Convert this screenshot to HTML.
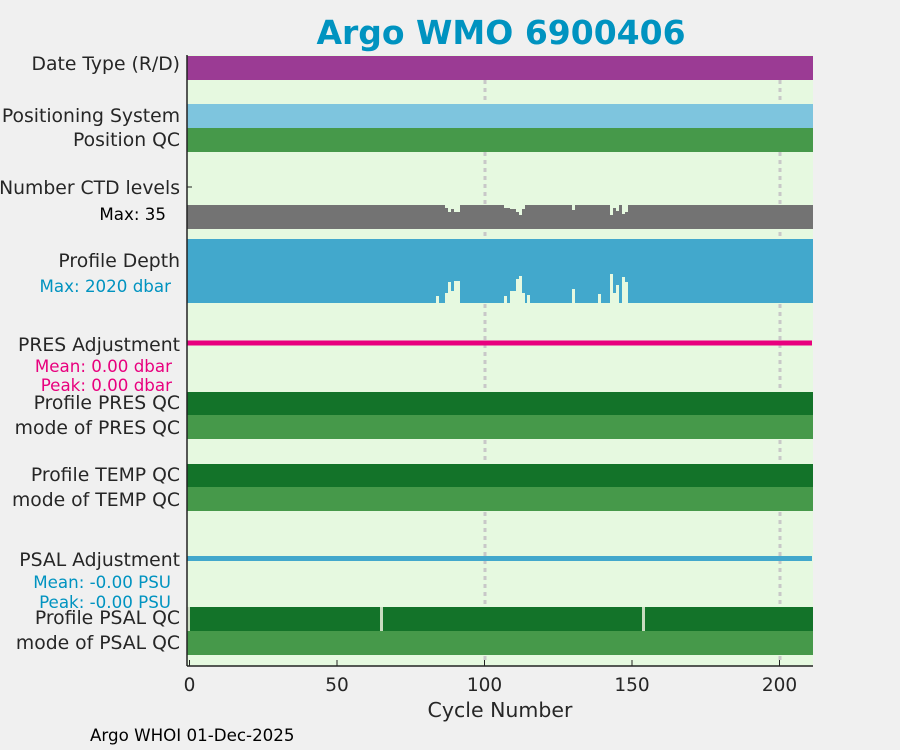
<!DOCTYPE html>
<html><head><meta charset="utf-8"><style>
body{margin:0;background:#f0f0f0;}
svg{display:block;font-family:"DejaVu Sans","Liberation Sans",sans-serif;}
</style></head><body>
<svg width="900" height="750" viewBox="0 0 900 750" xmlns="http://www.w3.org/2000/svg">
<rect width="900" height="750" fill="#f0f0f0"/>
<text x="501" y="44" text-anchor="middle" font-size="33" font-weight="bold" fill="#0093c0">Argo WMO 6900406</text>
<rect x="187" y="55" width="626" height="611" fill="#e6f9e0"/>
<g stroke="#c8c8c8" stroke-width="3" stroke-dasharray="4,4">
<line x1="485" y1="56" x2="485" y2="663"/><line x1="780" y1="56" x2="780" y2="663"/>
</g>
<rect x="187" y="56" width="626" height="24" fill="#9b3b94"/>
<rect x="187" y="104" width="626" height="24" fill="#7ec5de"/>
<rect x="187" y="128" width="626" height="24" fill="#46994a"/>
<rect x="187" y="205" width="626" height="24" fill="#737373"/>
<g fill="#e6f9e0">
<rect x="445" y="205" width="3" height="3"/><rect x="448" y="205" width="3" height="7"/><rect x="451" y="205" width="3" height="4"/><rect x="454" y="205" width="6" height="7"/>
<rect x="504" y="205" width="6" height="3"/><rect x="510" y="205" width="6" height="4"/><rect x="516" y="205" width="3" height="7"/><rect x="519" y="205" width="3" height="10"/><rect x="522" y="205" width="3" height="4"/>
<rect x="572" y="205" width="3" height="5"/><rect x="610" y="205" width="3" height="10"/><rect x="613" y="205" width="3" height="3"/><rect x="616" y="205" width="3" height="6"/><rect x="622" y="205" width="3" height="9"/><rect x="625" y="205" width="3" height="7"/>
</g>
<rect x="187" y="239" width="626" height="64" fill="#42a8cc"/>
<g fill="#e6f9e0">
<rect x="436" y="296" width="3" height="7"/><rect x="445" y="293" width="3" height="10"/><rect x="448" y="282" width="3" height="21"/><rect x="451" y="291" width="3" height="12"/><rect x="454" y="281" width="6" height="22"/>
<rect x="504" y="296" width="3" height="7"/><rect x="510" y="291" width="6" height="12"/><rect x="516" y="279" width="3" height="24"/><rect x="519" y="276" width="3" height="27"/><rect x="522" y="293" width="3" height="10"/><rect x="527" y="295" width="3" height="8"/>
<rect x="572" y="289" width="3" height="14"/><rect x="598" y="294" width="3" height="9"/><rect x="610" y="274" width="3" height="29"/><rect x="613" y="293" width="3" height="10"/><rect x="616" y="285" width="3" height="18"/><rect x="622" y="277" width="3" height="26"/><rect x="625" y="282" width="3" height="21"/>
</g>
<rect x="187" y="340.5" width="625" height="5" fill="#e8007e"/>
<rect x="187" y="392" width="626" height="23" fill="#137329"/>
<rect x="187" y="415" width="626" height="24" fill="#46994a"/>
<rect x="187" y="464" width="626" height="23" fill="#137329"/>
<rect x="187" y="487" width="626" height="24" fill="#46994a"/>
<rect x="187" y="556" width="625" height="5" fill="#42a8cc"/>
<rect x="187" y="607" width="626" height="24" fill="#137329"/>
<rect x="187" y="607" width="3" height="24" fill="#c8dcc0"/>
<rect x="380" y="607" width="3" height="24" fill="#c8dcc0"/>
<rect x="642" y="607" width="3" height="24" fill="#c8dcc0"/>
<rect x="187" y="631" width="626" height="24" fill="#46994a"/>
<line x1="187" y1="55" x2="187" y2="666" stroke="#222" stroke-width="1.5"/>
<line x1="187" y1="666" x2="813" y2="666" stroke="#222" stroke-width="1.5"/>
<line x1="187" y1="187" x2="192" y2="187" stroke="#222"/>
<g stroke="#222"><line x1="189.5" y1="660" x2="189.5" y2="666"/><line x1="337" y1="660" x2="337" y2="666"/><line x1="484.5" y1="660" x2="484.5" y2="666"/><line x1="632" y1="660" x2="632" y2="666"/><line x1="779.5" y1="660" x2="779.5" y2="666"/></g>
<g font-size="18.5" fill="#262626" text-anchor="middle">
<text x="189.5" y="691">0</text><text x="337" y="691">50</text><text x="484.5" y="691">100</text><text x="632" y="691">150</text><text x="779.5" y="691">200</text>
<text x="500" y="717" font-size="20.5">Cycle Number</text>
</g>
<g font-size="18.8" fill="#262626" text-anchor="end">
<text x="180" y="70">Date Type (R/D)</text>
<text x="180" y="122">Positioning System</text>
<text x="180" y="146">Position QC</text>
<text x="180" y="194">Number CTD levels</text>
<text x="180" y="267">Profile Depth</text>
<text x="180" y="351">PRES Adjustment</text>
<text x="180" y="409">Profile PRES QC</text>
<text x="180" y="434">mode of PRES QC</text>
<text x="180" y="481">Profile TEMP QC</text>
<text x="180" y="506">mode of TEMP QC</text>
<text x="180" y="566">PSAL Adjustment</text>
<text x="180" y="624">Profile PSAL QC</text>
<text x="180" y="649">mode of PSAL QC</text>
</g>
<g font-size="16.7" text-anchor="end">
<text x="166" y="220" fill="#000">Max: 35</text>
<text x="171" y="292" fill="#0093c0">Max: 2020 dbar</text>
<text x="172" y="372" fill="#e8007e">Mean: 0.00 dbar</text>
<text x="172" y="391" fill="#e8007e">Peak: 0.00 dbar</text>
<text x="171" y="588" fill="#0093c0">Mean: -0.00 PSU</text>
<text x="171" y="608" fill="#0093c0">Peak: -0.00 PSU</text>
</g>
<text x="90" y="741" font-size="16.7" fill="#000">Argo WHOI 01-Dec-2025</text>
</svg>
</body></html>
